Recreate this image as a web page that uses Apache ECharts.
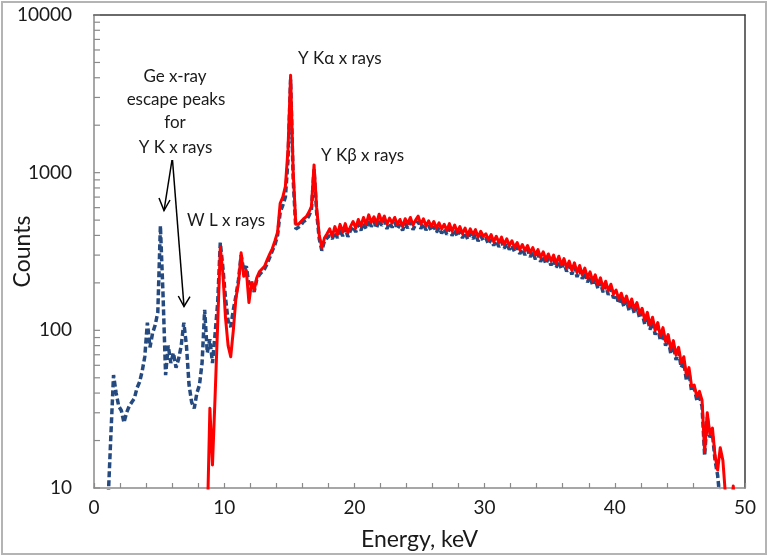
<!DOCTYPE html>
<html><head><meta charset="utf-8">
<script src="https://cdn.jsdelivr.net/npm/echarts@6/dist/echarts.min.js"></script>
<style>html,body{margin:0;padding:0;background:#fff}#c{width:769px;height:558px}</style>
</head><body><div id="c"></div><script>
// Channel calibration (keV): first channel energy and channel width
const blueStart = 1.1, redStart = 8.1, channelStep = 0.2;

// Blue dashed spectrum, one row per keV (x.1, x.3, x.5, x.7, x.9)
const blueCounts = [
  9, 22, 52, 40, 33,        // 1
  31, 26, 30, 33, 35,       // 2
  37, 43, 47, 55, 68,       // 3
  112, 78, 96, 108, 130,    // 4
  460, 170, 52, 80, 62,     // 5
  72, 58, 66, 80, 112,      // 6
  80, 45, 35, 32, 40,       // 7
  45, 62, 135, 72, 88,      // 8
  62, 95, 150, 360, 250,    // 9
  160, 115, 105, 135, 165,  // 10
  210, 300, 240, 255, 195,  // 11
  205, 175, 210, 225, 235,  // 12
  245, 265, 290, 320, 350,  // 13
  400, 560, 620, 700, 1200, // 14
  3900, 900, 440, 450, 465, // 15
  490, 500, 530, 580, 1050, // 16
  560, 380, 320, 370, 385,  // 17
  400, 380, 420, 385, 440,  // 18
  395, 445, 392, 430, 455,  // 19
  420, 470, 430, 480, 440,  // 20
  500, 455, 490, 445, 505,  // 21
  462, 495, 440, 480, 450,  // 22
  485, 440, 470, 430, 475,  // 23
  445, 485, 435, 470, 490,  // 24
  442, 475, 432, 462, 428,  // 25
  455, 418, 450, 412, 440,  // 26
  405, 442, 398, 435, 395,  // 27
  425, 385, 418, 378, 410,  // 28
  380, 408, 368, 398, 372,  // 29
  385, 352, 378, 345, 370,  // 30
  338, 365, 330, 356, 325,  // 31
  345, 315, 338, 305, 328,  // 32
  300, 325, 292, 315, 282,  // 33
  305, 272, 296, 264, 286,  // 34
  258, 282, 250, 276, 245,  // 35
  268, 236, 258, 226, 252,  // 36
  218, 242, 212, 232, 202,  // 37
  220, 193, 212, 184, 202,  // 38
  174, 193, 168, 184, 160,  // 39
  168, 148, 162, 141, 155,  // 40
  133, 148, 128, 141, 120,  // 41
  129, 109, 122, 101, 113,  // 42
  94, 105, 86, 97, 80,      // 43
  88, 71, 80, 65, 73,       // 44
  58, 63, 48, 54, 41,       // 45
  43, 36, 38, 33, 16,       // 46
  28, 21, 22, 15, 12,       // 47
  8                         // 48
];

// Red solid spectrum, one row per keV (x.1, x.3, x.5, x.7, x.9)
const redCounts = [
  null, null, null, 6, 32,  // 8
  14, 38, 110, 335, 230,    // 9
  120, 80, 68, 100, 160,    // 10
  200, 310, 220, 240, 150,  // 11
  200, 180, 215, 235, 245,  // 12
  255, 280, 305, 330, 370,  // 13
  420, 640, 700, 820, 1400, // 14
  4150, 1000, 470, 470, 490,// 15
  510, 525, 560, 610, 1120, // 16
  600, 400, 335, 385, 410,  // 17
  440, 395, 455, 405, 470,  // 18
  420, 475, 415, 455, 490,  // 19
  445, 505, 460, 520, 470,  // 20
  540, 485, 525, 475, 545,  // 21
  490, 530, 470, 515, 480,  // 22
  520, 470, 505, 455, 510,  // 23
  475, 520, 465, 500, 530,  // 24
  470, 510, 460, 495, 455,  // 25
  490, 445, 480, 440, 470,  // 26
  430, 475, 425, 465, 420,  // 27
  455, 410, 445, 400, 440,  // 28
  405, 435, 390, 425, 395,  // 29
  410, 375, 405, 365, 395,  // 30
  360, 390, 350, 380, 345,  // 31
  370, 335, 360, 325, 350,  // 32
  320, 345, 310, 335, 300,  // 33
  325, 290, 315, 280, 305,  // 34
  275, 300, 265, 295, 260,  // 35
  285, 250, 275, 240, 268,  // 36
  232, 258, 225, 248, 215,  // 37
  235, 205, 225, 195, 215,  // 38
  185, 205, 178, 196, 170,  // 39
  180, 158, 172, 150, 165,  // 40
  142, 158, 136, 150, 128,  // 41
  138, 116, 130, 108, 121,  // 42
  100, 112, 92, 104, 85,    // 43
  94, 76, 86, 70, 78,       // 44
  62, 68, 52, 58, 44,       // 45
  45, 38, 41, 36, 17,       // 46
  30, 22, 24, 16, 13,       // 47
  18, 15, 9, 8, 7,          // 48
  10.3, 5                   // 49
];

const xTickLabels = ['0', '10', '20', '30', '40', '50'];
const yTickLabels = ['10', '100', '1000', '10000'];
const yTickValues = [10,20,30,40,50,60,70,80,90,100,200,300,400,500,600,700,800,900,
  1000,2000,3000,4000,5000,6000,7000,8000,9000,10000];

const toPairs = (start, arr) => arr.map((c, i) => [+(start + i * channelStep).toFixed(1), c]);

const FONT = 'Lato, "Open Sans", sans-serif';
const TXT = '#1a1a1a';

const chart = echarts.init(document.getElementById('c'), null, {renderer: 'canvas'});
chart.setOption({
  animation: false,
  backgroundColor: '#fff',
  grid: {left: 94, right: 24, top: 15, bottom: 70, containLabel: false, outerBoundsMode: 'none'},
  xAxis: [{
    type: 'value', min: 0, max: 50, interval: 10,
    name: 'Energy, keV', nameLocation: 'middle', nameGap: 40, nameMoveOverlap: false,
    nameTextStyle: {fontFamily: FONT, fontSize: 23, color: TXT},
    axisLine: {show: true, lineStyle: {color: '#8a8a8a', width: 1.5}},
    axisTick: {show: true, inside: true, length: 5, lineStyle: {color: '#8a8a8a', width: 1.2}},
    minorTick: {show: true, splitNumber: 5, length: 5, lineStyle: {color: '#8a8a8a', width: 1.2}},
    splitLine: {show: false},
    axisLabel: {fontFamily: FONT, fontSize: 19, color: TXT, margin: 10,
      formatter: v => xTickLabels[Math.round(v / 10)] ?? ''}
  }, {
    type: 'value', min: 0, max: 50, position: 'top',
    axisLine: {show: true, onZero: false, lineStyle: {color: '#3a3a3a', width: 1.5}},
    axisTick: {show: false}, axisLabel: {show: false}, splitLine: {show: false}
  }],
  yAxis: [{
    type: 'log', logBase: 10, min: 10, max: 10000,
    name: 'Counts', nameLocation: 'middle', nameGap: 60, nameMoveOverlap: false,
    nameTextStyle: {fontFamily: FONT, fontSize: 23, color: TXT},
    axisLine: {show: true, onZero: false, lineStyle: {color: '#8a8a8a', width: 1.5}},
    axisTick: {show: false},
    splitLine: {show: false},
    axisLabel: {fontFamily: FONT, fontSize: 19, color: TXT, margin: 22,
      formatter: v => yTickLabels[Math.round(Math.log10(v)) - 1] ?? ''}
  }, {
    type: 'value', min: 0, max: 1, position: 'right',
    axisLine: {show: true, onZero: false, lineStyle: {color: '#3a3a3a', width: 1.5}},
    axisTick: {show: false}, axisLabel: {show: false}, splitLine: {show: false}
  }],
  series: [{
    type: 'custom', name: 'yticks', xAxisIndex: 0, yAxisIndex: 0, silent: true, clip: false,
    data: yTickValues.map(v => [0, v]),
    renderItem: (params, api) => {
      const p = api.coord([0, api.value(1)]);
      return {type: 'line', shape: {x1: p[0], y1: p[1], x2: p[0] + 6, y2: p[1]},
        style: {stroke: '#8a8a8a', lineWidth: 1.2}};
    }
  }, {
    type: 'line', name: 'blue', xAxisIndex: 0, yAxisIndex: 0,
    data: toPairs(blueStart, blueCounts), showSymbol: false, symbol: 'none', clip: true,
    lineStyle: {color: '#254a80', width: 3.5, type: [6, 3], cap: 'butt'}, z: 2
  }, {
    type: 'line', name: 'red', xAxisIndex: 0, yAxisIndex: 0,
    data: toPairs(redStart, redCounts), showSymbol: false, symbol: 'none', clip: true,
    connectNulls: false,
    lineStyle: {color: '#ff0000', width: 3, join: 'round'}, z: 3
  }],
  graphic: [
    {type: 'rect', shape: {x: 2, y: 2, width: 764, height: 552}, silent: true,
      style: {fill: 'none', stroke: '#b4b4b4', lineWidth: 2}, z: 100},
    {type: 'text', x: 175, y: 77, style: {text: 'Ge x-ray', font: '17px ' + FONT, fill: TXT, align: 'center', verticalAlign: 'middle'}, z: 100},
    {type: 'text', x: 176, y: 100, style: {text: 'escape peaks', font: '17px ' + FONT, fill: TXT, align: 'center', verticalAlign: 'middle'}, z: 100},
    {type: 'text', x: 175, y: 123, style: {text: 'for', font: '17px ' + FONT, fill: TXT, align: 'center', verticalAlign: 'middle'}, z: 100},
    {type: 'text', x: 175.5, y: 148, style: {text: 'Y K x rays', font: '17px ' + FONT, fill: TXT, align: 'center', verticalAlign: 'middle'}, z: 100},
    {type: 'text', x: 187, y: 221, style: {text: 'W L x rays', font: '17px ' + FONT, fill: TXT, align: 'left', verticalAlign: 'middle'}, z: 100},
    {type: 'text', x: 298, y: 59, style: {text: 'Y Kα x rays', font: '17px ' + FONT, fill: TXT, align: 'left', verticalAlign: 'middle'}, z: 100},
    {type: 'text', x: 321, y: 156, style: {text: 'Y Kβ x rays', font: '17px ' + FONT, fill: TXT, align: 'left', verticalAlign: 'middle'}, z: 100},
    {type: 'polyline', shape: {points: [[172, 160], [164, 210.5]]}, style: {stroke: '#000', lineWidth: 1.5, fill: null}, z: 100},
    {type: 'polyline', shape: {points: [[159, 198], [164, 210.5], [170, 200]]}, style: {stroke: '#000', lineWidth: 1.5, fill: null}, z: 100},
    {type: 'polyline', shape: {points: [[172.5, 160], [184, 306.5]]}, style: {stroke: '#000', lineWidth: 1.5, fill: null}, z: 100},
    {type: 'polyline', shape: {points: [[178.3, 296], [184, 306.5], [190, 296.7]]}, style: {stroke: '#000', lineWidth: 1.5, fill: null}, z: 100}
  ]
});
</script></body></html>
